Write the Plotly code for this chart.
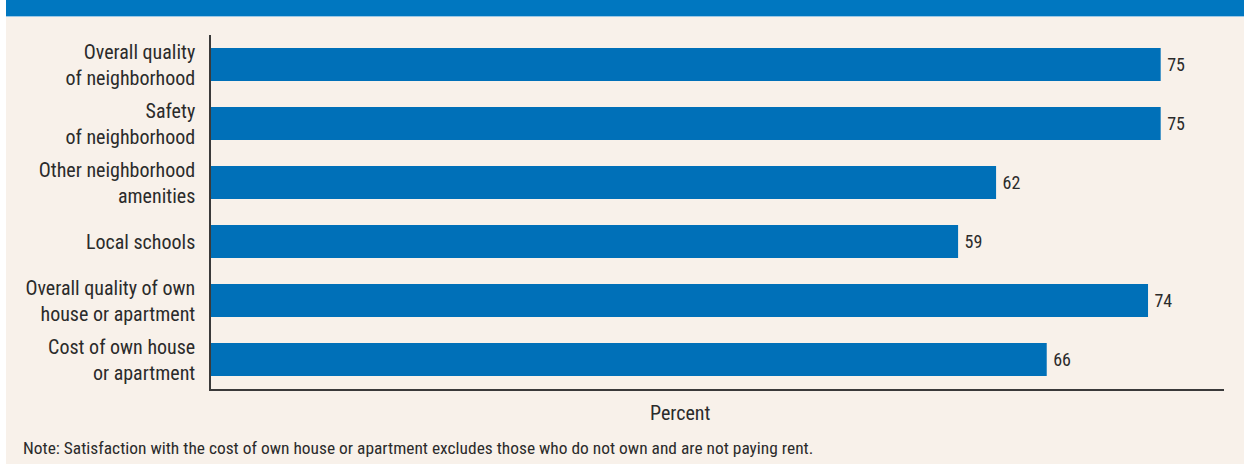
import plotly.graph_objects as go

categories = [
    "Overall quality<br>of neighborhood",
    "Safety<br>of neighborhood",
    "Other neighborhood<br>amenities",
    "Local schools",
    "Overall quality of own<br>house or apartment",
    "Cost of own house<br>or apartment",
]
values = [75, 75, 62, 59, 74, 66]
x_title = "Percent"
note = "Note: Satisfaction with the cost of own house or apartment excludes those who do not own and are not paying rent."

W, H = 1244, 464
L, R, T, B = 211, 20, 35, 75
PW, PH = W - L - R, H - T - B

def px(xp):
    return (xp - L) / PW

def py(yp):
    return (H - B - yp) / PH

BEIGE = "#F8F1EA"
BAR = "#0070B8"
BAND = "#0077C0"
TXT = "#2B2B2B"
FONT = "Roboto Condensed, Liberation Sans Narrow, Liberation Sans, sans-serif"

fig = go.Figure(go.Bar(
    y=categories, x=values, orientation="h",
    marker=dict(color=BAR, line=dict(width=0)),
    width=0.56,
    text=values, textposition="outside",
    texttemplate="\u2009%{x}",
    textfont=dict(size=18, color=TXT, family=FONT),
    cliponaxis=False,
))

fig.update_layout(
    width=W, height=H,
    margin=dict(l=L, r=R, t=T, b=B),
    paper_bgcolor=BEIGE, plot_bgcolor=BEIGE,
    showlegend=False,
    font=dict(family=FONT, color=TXT),
    xaxis=dict(range=[0, 80], showgrid=False, zeroline=False, showticklabels=False,
               ticks="", showline=True, linecolor="#3A3A3A", linewidth=1.5, fixedrange=True),
    yaxis=dict(autorange="reversed", showgrid=False, zeroline=False, ticks="",
               showline=True, linecolor="#3A3A3A", linewidth=1.5,
               tickfont=dict(size=20, color=TXT, family=FONT),
               ticklabelstandoff=10),
    shapes=[
        dict(type="rect", xref="paper", yref="paper",
             x0=px(6), x1=px(W + 5), y0=py(16), y1=py(-5),
             fillcolor=BAND, line=dict(width=0), layer="above"),
        dict(type="line", xref="paper", yref="paper",
             x0=px(6), x1=px(W + 5), y0=py(16.5), y1=py(16.5),
             line=dict(color="#9CC8E6", width=1), layer="above"),
        dict(type="rect", xref="paper", yref="paper",
             x0=px(-5), x1=px(6), y0=py(H + 5), y1=py(-5),
             fillcolor="white", line=dict(width=0), layer="above"),
    ],
    annotations=[
        dict(text=x_title, xref="paper", yref="paper", x=px(680), y=py(413),
             xanchor="center", yanchor="middle", showarrow=False,
             font=dict(size=20, color=TXT, family=FONT)),
        dict(text=note, xref="paper", yref="paper", x=px(21), y=py(448),
             xanchor="left", yanchor="middle", showarrow=False,
             font=dict(size=17.4, color=TXT, family=FONT)),
    ],
)

fig.write_html("out.html", config={"displayModeBar": False},
               post_script="document.body.style.margin='0px';document.body.style.overflow='hidden';")
